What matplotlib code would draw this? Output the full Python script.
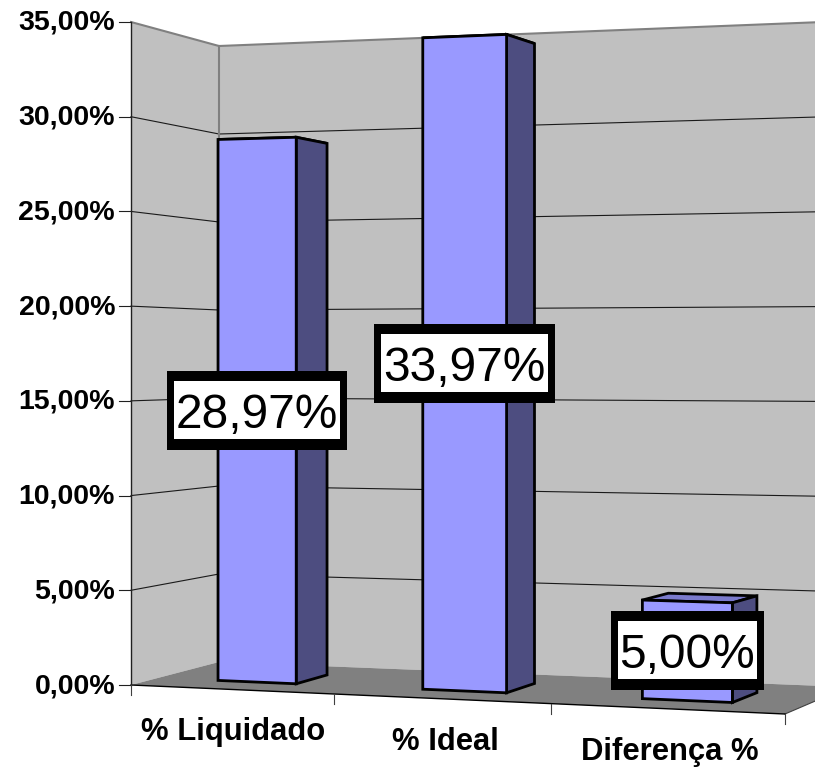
import numpy as np
import matplotlib
matplotlib.use("Agg")
import matplotlib.pyplot as plt
from matplotlib.patches import Polygon, Rectangle

categories = ["% Liquidado", "% Ideal", "Diferença %"]
values = [28.97, 33.97, 5.00]
value_labels = ["28,97%", "33,97%", "5,00%"]
y_ticks = [0, 5, 10, 15, 20, 25, 30, 35]
y_tick_labels = ["0,00%", "5,00%", "10,00%", "15,00%", "20,00%", "25,00%", "30,00%", "35,00%"]

plt.rcParams["font.family"] = ["Liberation Sans", "DejaVu Sans"]

# floor corners in pixels: (category, depth) -> (x, y), gives the 3d look
corners = [((0, 0), (131, 685)), ((0, 1), (219, 662)), ((3, 1), (848, 687)), ((3, 0), (785, 714))]
A, b = [], []
for (u, d), (px, py) in corners:
    A.append([u, d, 1, 0, 0, 0, -u * px, -d * px])
    A.append([0, 0, 0, u, d, 1, -u * py, -d * py])
    b += [px, py]
H = np.linalg.solve(np.array(A, float), np.array(b, float))

# pixels per 1% at three corners of the box, used for the height term
s00, s01, s31 = 663 / 35, 616 / 35, 666 / 35
w01 = H[7] + 1
w31 = 3 * H[6] + H[7] + 1
h0 = s00
h2 = s01 * w01 - h0
h1 = (s31 * w31 - h0 - h2) / 3


def proj(u, d, v=0):
    w = H[6] * u + H[7] * d + 1
    x = (H[0] * u + H[1] * d + H[2]) / w
    y = (H[3] * u + H[4] * d + H[5] - (h0 + h1 * u + h2 * d) * v) / w
    return x, y


fig = plt.figure(figsize=(8.15, 7.69), dpi=100)
ax = fig.add_axes([0, 0, 1, 1])
ax.set_xlim(0, 815)
ax.set_ylim(769, 0)
ax.axis("off")

vmax = y_ticks[-1]
# walls and floor
ax.add_patch(Polygon([proj(0, 0), proj(0, 1), proj(0, 1, vmax), proj(0, 0, vmax)], fc="#c0c0c0", ec="none", zorder=1))
ax.add_patch(Polygon([proj(0, 1), proj(3, 1), proj(3, 1, vmax), proj(0, 1, vmax)], fc="#c0c0c0", ec="none", zorder=1))
ax.add_patch(Polygon([proj(0, 0), proj(0, 1), proj(3, 1), proj(3, 0)], fc="#808080", ec="none", zorder=2))

# gridlines
for t in y_ticks[1:-1]:
    pts = [proj(0, 0, t), proj(0, 1, t), proj(3, 1, t)]
    ax.plot(*zip(*pts), color="#1a1a1a", lw=0.8, zorder=1.5)

# wall outline
pts = [proj(0, 0, vmax), proj(0, 1, vmax), proj(3, 1, vmax)]
ax.plot(*zip(*pts), color="#808080", lw=1.5, zorder=1.6)
ax.plot(*zip(proj(0, 1), proj(0, 1, vmax)), color="#808080", lw=1.5, zorder=1.6)
ax.plot(*zip(proj(3, 0), proj(3, 1)), color="#404040", lw=0.8, zorder=2.5)

# axes lines and ticks
ax.plot(*zip(proj(0, 0), proj(3, 0)), color="black", lw=1, zorder=3)
ax.plot(*zip(proj(0, 0, vmax), proj(0, 0)), color="#202020", lw=1, zorder=3)
for t, lab in zip(y_ticks, y_tick_labels):
    x, y = proj(0, 0, t)
    ax.plot([x - 12, x], [y, y], color="#202020", lw=0.8, zorder=3)
    ax.text(115, y + 1, lab, ha="right", va="center", fontsize=20.5, fontweight="bold", zorder=6)
for u in range(4):
    x, y = proj(u, 0)
    ax.plot([x, x], [y, y + 10], color="#404040", lw=0.8, zorder=3)

label_dx = [3, 5, 4]
for i, cat in enumerate(categories):
    x, y = proj(i + 0.5, 0)
    ax.text(x + label_dx[i], y + 43, cat, ha="center", va="center", fontsize=22.3, fontweight="bold", zorder=6)

# bars
u0, u1 = 0.305, 0.695
d0, d1 = 0.3, 0.67
for i, v in enumerate(values):
    l, r = i + u0, i + u1
    style = dict(ec="black", lw=2, joinstyle="miter", zorder=4)
    ax.add_patch(Polygon([proj(l, d0, v), proj(r, d0, v), proj(r, d1, v), proj(l, d1, v)], fc="#7a7acc", **style))
    ax.add_patch(Polygon([proj(r, d0), proj(r, d1), proj(r, d1, v), proj(r, d0, v)], fc="#4d4d80", **style))
    ax.add_patch(Polygon([proj(l, d0), proj(r, d0), proj(r, d0, v), proj(l, d0, v)], fc="#9999ff", **style))

# value labels, centred on the front face of each bar
fig.canvas.draw()
for i, (v, lab) in enumerate(zip(values, value_labels)):
    cx = (proj(i + u0, d0)[0] + proj(i + u1, d0)[0]) / 2
    cy = (proj(i + 0.5, d0)[1] + proj(i + 0.5, d0, v)[1]) / 2
    t = ax.text(cx, cy, lab, ha="center", va="center_baseline", fontsize=34.5, zorder=7)
    half = t.get_window_extent().width / 2 + 2
    ax.add_patch(Rectangle((cx - half - 7, cy - 39.5), 2 * half + 14, 79, fc="black", ec="none", zorder=5))
    ax.add_patch(Rectangle((cx - half, cy - 29.5), 2 * half, 58, fc="white", ec="none", zorder=6))

fig.savefig("out.png", dpi=100)
